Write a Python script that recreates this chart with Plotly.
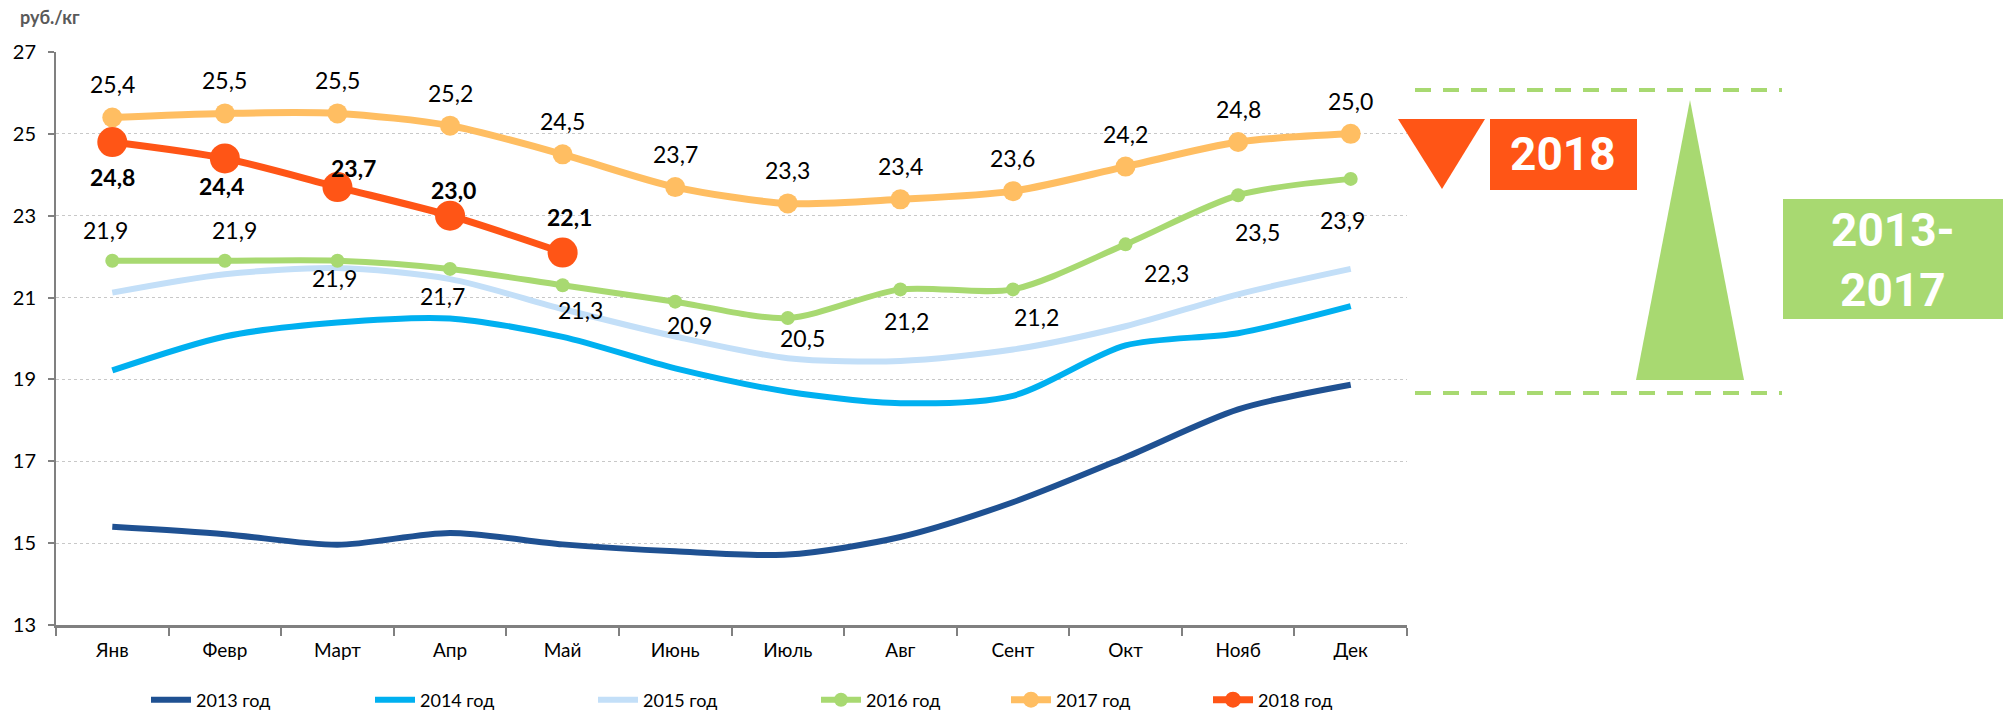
import plotly.graph_objects as go

# ---------------- data ----------------
months = ["Янв", "Февр", "Март", "Апр", "Май", "Июнь", "Июль", "Авг", "Сент", "Окт", "Нояб", "Дек"]
y2013 = [15.40, 15.22, 14.96, 15.25, 14.97, 14.80, 14.72, 15.15, 16.00, 17.10, 18.27, 18.87]
y2014 = [19.22, 20.05, 20.39, 20.49, 20.04, 19.27, 18.70, 18.42, 18.60, 19.83, 20.13, 20.79]
y2015 = [21.12, 21.57, 21.72, 21.45, 20.72, 20.05, 19.52, 19.45, 19.73, 20.30, 21.08, 21.70]
y2016 = [21.9, 21.9, 21.9, 21.7, 21.3, 20.9, 20.5, 21.2, 21.2, 22.3, 23.5, 23.9]
y2017 = [25.4, 25.5, 25.5, 25.2, 24.5, 23.7, 23.3, 23.4, 23.6, 24.2, 24.8, 25.0]
y2018 = [24.8, 24.4, 23.7, 23.0, 22.1]
series_names = ["2013 год", "2014 год", "2015 год", "2016 год", "2017 год", "2018 год"]
y_ticks = [13, 15, 17, 19, 21, 23, 25, 27]
unit_label = "руб./кг"
badge_2018 = "2018"
badge_range = "2013-<br>2017"

# ---------------- styles ----------------
W, H = 2003, 712
ML, MR, MT, MB = 56, 596, 52, 87
PW, PH = W - ML - MR, H - MT - MB
FONT = "Lato"

colors = ["#1F5192", "#00B0F0", "#C3DFF8", "#A8D971", "#FFBE62", "#FF5516"]
widths = [6, 6, 6, 6, 7, 7]
msizes = [0, 0, 0, 14, 20, 30]

# label offsets (pixels; +y = up)
off2016 = [(-7, 31), (10, 31), (-3, -17), (-8, -27), (18, -25), (14, -23),
           (15, -20), (6, -32), (24, -28), (41, -29), (19, -37), (-8, -41)]
off2017 = [(0, 33)] * 12
off2018 = [(0, -35), (-3, -28), (16, 19), (3, 26), (7, 36)]


def px(x):
    return (x - ML) / PW


def py(y):
    return (H - MB - y) / PH


fig = go.Figure()
all_y = [y2013, y2014, y2015, y2016, y2017, y2018]
legend_x = [148, 372, 595, 818, 1008, 1210]
for i, (name, ys) in enumerate(zip(series_names, all_y)):
    mode = "lines+markers" if msizes[i] else "lines"
    fig.add_trace(go.Scatter(
        x=months[:len(ys)], y=ys, name=name, mode=mode,
        line=dict(color=colors[i], width=widths[i], shape="spline", smoothing=0.8),
        marker=dict(size=msizes[i], color=colors[i]) if msizes[i] else None,
        legend="legend" if i == 0 else f"legend{i + 1}",
        hoverinfo="x+y+name",
    ))

annotations = []


def fmt(v):
    return f"{v:.1f}".replace(".", ",")


for ys, offs, bold in [(y2016, off2016, False), (y2017, off2017, False), (y2018, off2018, True)]:
    for m, v, (dx, dy) in zip(months, ys, offs):
        t = fmt(v)
        annotations.append(dict(
            x=m, y=v, xref="x", yref="y", text=f"<b>{t}</b>" if bold else t,
            showarrow=False, xshift=dx, yshift=dy, xanchor="center", yanchor="middle",
            font=dict(family=FONT, size=23, color="#000000"),
        ))

annotations.append(dict(
    x=px(50), y=py(17), xref="paper", yref="paper", text=f"<b>{unit_label}</b>",
    showarrow=False, xanchor="center", yanchor="middle",
    font=dict(family=FONT, size=18, color="#595959"),
))

# right-side decorations
shapes = []
green = "#A8D971"
red = "#FF5516"
for yy in (90, 393):
    shapes.append(dict(type="line", xref="paper", yref="paper",
                       x0=px(1415), x1=px(1782), y0=py(yy), y1=py(yy),
                       line=dict(color=green, width=4, dash="16px,12px")))
# red down triangle
shapes.append(dict(type="path", xref="paper", yref="paper", layer="below",
                   path=f"M {px(1398)} {py(119)} L {px(1485)} {py(119)} L {px(1442)} {py(189)} Z",
                   fillcolor=red, line=dict(width=0)))
shapes.append(dict(type="rect", xref="paper", yref="paper", layer="below",
                   x0=px(1490), x1=px(1637), y0=py(119), y1=py(190),
                   fillcolor=red, line=dict(width=0)))
# green up triangle
shapes.append(dict(type="path", xref="paper", yref="paper", layer="below",
                   path=f"M {px(1636)} {py(380)} L {px(1744)} {py(380)} L {px(1690)} {py(100)} Z",
                   fillcolor=green, line=dict(width=0)))
shapes.append(dict(type="rect", xref="paper", yref="paper", layer="below",
                   x0=px(1783), x1=px(2003), y0=py(199), y1=py(319),
                   fillcolor=green, line=dict(width=0)))
annotations.append(dict(x=px(1563), y=py(154), xref="paper", yref="paper",
                        xanchor="center", yanchor="middle",
                        text=f"<b>{badge_2018}</b>", showarrow=False,
                        font=dict(family="Roboto", size=46, color="#FFFFFF")))
annotations.append(dict(x=px(1893), y=py(260), xref="paper", yref="paper",
                        xanchor="center", yanchor="middle",
                        text=f"<b>{badge_range}</b>", showarrow=False,
                        font=dict(family="Roboto", size=46, color="#FFFFFF")))

layout_legends = {}
for i, lx in enumerate(legend_x):
    key = "legend" if i == 0 else f"legend{i + 1}"
    layout_legends[key] = dict(
        x=px(lx - 2), y=py(700), xanchor="left", yanchor="middle",
        orientation="h", bgcolor="rgba(0,0,0,0)", borderwidth=0,
        font=dict(family=FONT, size=18, color="#000000"),
        itemwidth=40, tracegroupgap=0,
    )

fig.update_layout(
    width=W, height=H,
    margin=dict(l=ML, r=MR, t=MT, b=MB, autoexpand=False),
    paper_bgcolor="white", plot_bgcolor="white",
    showlegend=True,
    font=dict(family=FONT, size=19, color="#000000"),
    xaxis=dict(
        type="category", range=[-0.5, 11.5], tickson="boundaries",
        ticks="outside", ticklen=8, tickwidth=2, tickcolor="#808080",
        showline=True, linecolor="#808080", linewidth=3,
        showgrid=False, tickfont=dict(family=FONT, size=19, color="#000000"),
        ticklabelstandoff=6, fixedrange=True,
    ),
    yaxis=dict(
        range=[13, 27], tickvals=y_ticks, ticks="outside", ticklen=6, tickwidth=2,
        tickcolor="#808080", showline=True, linecolor="#808080", linewidth=2,
        showgrid=True, gridcolor="#C8C8C8", griddash="dot", gridwidth=1,
        zeroline=False, tickfont=dict(family=FONT, size=20, color="#000000"),
        ticklabelstandoff=8, fixedrange=True,
    ),
    annotations=annotations,
    shapes=shapes,
    **layout_legends,
)

fig.write_html(
    "out.html",
    config={"displayModeBar": False},
    post_script="document.body.style.margin='0';document.body.style.overflow='hidden';",
)
